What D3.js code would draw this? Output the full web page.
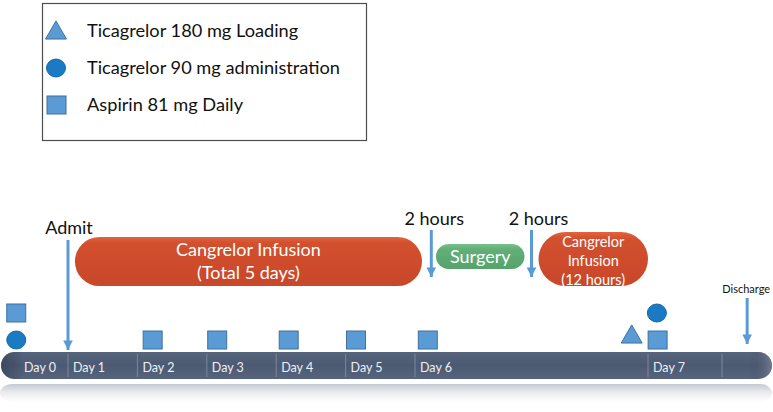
<!DOCTYPE html>
<html>
<head>
<meta charset="utf-8">
<script src="https://cdn.jsdelivr.net/npm/d3@7"></script>
<style>
  body { margin: 0; background: #fff; }
  svg { display: block; font-family: Lato, "Open Sans", sans-serif; }
</style>
</head>
<body>
<div id="chart"></div>
<script>
// timeline data (days)
const days = [0, 1, 2, 3, 4, 5, 6, 7];
const dayLabels = ["Day 0", "Day 1", "Day 2", "Day 3", "Day 4", "Day 5", "Day 6", "Day 7"];
const dividers = [1, 2, 3, 4, 5, 6, 7, 8];

// doses: day + stacking level
const aspirinDays = [0.25, 2.22, 3.15, 4.18, 5.15, 6.055, 7.13];
const aspirinLevels = [1, 0, 0, 0, 0, 0, 0];
const tica90Days = [0.25, 7.12];
const tica90Levels = [0, 1];
const tica180Days = [6.93];
const tica180Levels = [0];

// infusion / procedure phases
const phaseNames = [["Cangrelor Infusion", "(Total 5 days)"], ["Surgery"], ["Cangrelor", "Infusion", "(12 hours)"]];
const phaseStart = [1.1, 6.09, 6.53];
const phaseEnd = [6.03, 6.47, 7.0];

// events (arrows)
const eventNames = ["Admit", "2 hours", "2 hours", "Discharge"];
const eventDays = [1.0, 6.07, 6.5, 8.34];

const legendNames = ["Ticagrelor 180 mg Loading", "Ticagrelor 90 mg administration", "Aspirin 81 mg Daily"];

const width = 773, height = 412;
const svg = d3.select("#chart").append("svg")
  .attr("width", width).attr("height", height);

// day 6 is stretched to make room for the surgery day
const x = d3.scaleLinear()
  .domain([0, 1, 6, 7, 8])
  .range([-1, 68, 415, 648, 722]);

const defs = svg.append("defs");
function vgrad(id, stops) {
  const g = defs.append("linearGradient").attr("id", id)
    .attr("x1", 0).attr("y1", 0).attr("x2", 0).attr("y2", 1);
  stops.forEach(s => g.append("stop").attr("offset", s[0]).attr("stop-color", s[1]));
}
vgrad("barGrad", [[0, "#56647c"], [0.5, "#4b5972"], [1, "#56647d"]]);
vgrad("reflGrad", [[0, "#c4c9d2"], [0.45, "#e8eaee"], [1, "#ffffff"]]);
vgrad("redGrad", [[0, "#e3643c"], [0.12, "#d2502d"], [1, "#c9472a"]]);
vgrad("greenGrad", [[0, "#78c18a"], [0.2, "#62b077"], [1, "#55a36b"]]);
const hg = defs.append("linearGradient").attr("id", "edgeGrad")
  .attr("x1", 0).attr("y1", 0).attr("x2", 1).attr("y2", 0);
[[0, "#2f3a4c", 0.55], [0.03, "#2f3a4c", 0], [0.97, "#2f3a4c", 0], [1, "#8892a4", 0.6]]
  .forEach(s => hg.append("stop").attr("offset", s[0]).attr("stop-color", s[1]).attr("stop-opacity", s[2]));
const arrowDef = defs.append("marker").attr("id", "arrow")
  .attr("viewBox", "0 0 10 10").attr("refX", 10).attr("refY", 5)
  .attr("markerWidth", 3.2).attr("markerHeight", 3.4).attr("orient", "auto")
  .attr("markerUnits", "strokeWidth");
arrowDef.append("path").attr("d", "M0,0L10,5L0,10Z").attr("fill", "#5b9bd5");

// ---- legend
const lg = svg.append("g");
lg.append("rect").attr("x", 42.5).attr("y", 3.5).attr("width", 324).attr("height", 137)
  .attr("fill", "#fff").attr("stroke", "#4d4d4d").attr("stroke-width", 1.2);
const legY = d3.scalePoint().domain(legendNames).range([31, 105]);
const tri = d3.symbol().type(d3.symbolTriangle);
const blue = "#5b9bd5", blueStroke = "#41719c";
lg.append("path").attr("d", tri.size(190)())
  .attr("transform", `translate(56,${legY(legendNames[0]) + 2})`)
  .attr("fill", blue).attr("stroke", blueStroke);
lg.append("ellipse").attr("cx", 56).attr("cy", legY(legendNames[1]))
  .attr("rx", 9.5).attr("ry", 9).attr("fill", "#1b7ac4").attr("stroke", "#1267aa");
lg.append("rect").attr("x", 47).attr("y", legY(legendNames[2]) - 9).attr("width", 19).attr("height", 18)
  .attr("fill", blue).attr("stroke", blueStroke);
lg.selectAll("text.leg").data(legendNames).join("text").attr("class", "leg")
  .attr("x", 87).attr("y", d => legY(d) + 6)
  .attr("font-size", 18.2).attr("fill", "#111").text(d => d);

// ---- timeline bar
const barTop = 352, barH = 27;
svg.append("rect").attr("x", 0).attr("y", barTop + barH + 5).attr("width", 772).attr("height", 18)
  .attr("rx", 12).attr("fill", "url(#reflGrad)");
svg.append("rect").attr("x", 1).attr("y", barTop).attr("width", 771).attr("height", barH)
  .attr("rx", 13.5).attr("fill", "url(#barGrad)");
svg.append("rect").attr("x", 1).attr("y", barTop).attr("width", 771).attr("height", barH)
  .attr("rx", 13.5).attr("fill", "url(#edgeGrad)");
svg.selectAll("line.div").data(dividers).join("line").attr("class", "div")
  .attr("x1", d => x(d)).attr("x2", d => x(d))
  .attr("y1", barTop + 2).attr("y2", barTop + barH - 2)
  .attr("stroke", "#7d889a").attr("stroke-width", 1);
svg.selectAll("text.day").data(days).join("text").attr("class", "day")
  .attr("x", (d, i) => i === 0 ? 24 : x(d) + 5)
  .attr("y", barTop + 20)
  .attr("font-size", 12.5).attr("fill", "#eef1f5")
  .text((d, i) => dayLabels[i]);

// ---- phases (pills)
const phaseFill = ["url(#redGrad)", "url(#greenGrad)", "url(#redGrad)"];
const phaseTop = [237, 244, 232];
const phaseBot = [286, 269, 286];
const phaseFont = [18, 18, 14.5];
const phaseLine = [23, 0, 19];
phaseNames.forEach((lines, i) => {
  const x0 = x(phaseStart[i]), x1 = x(phaseEnd[i]);
  const h = phaseBot[i] - phaseTop[i];
  const g = svg.append("g");
  g.append("rect").attr("x", x0).attr("y", phaseTop[i]).attr("width", x1 - x0).attr("height", h)
    .attr("rx", Math.min(h / 2, (x1 - x0) / 2)).attr("ry", h / 2)
    .attr("fill", phaseFill[i]);
  const cy = (phaseTop[i] + phaseBot[i]) / 2;
  const n = lines.length;
  g.selectAll("text").data(lines).join("text")
    .attr("x", (x0 + x1) / 2)
    .attr("y", (d, j) => cy + (j - (n - 1) / 2) * phaseLine[i] + phaseFont[i] * 0.35 + (i === 2 ? 2 : 0))
    .attr("text-anchor", "middle").attr("font-size", phaseFont[i]).attr("fill", "#fff")
    .text(d => d);
});

// ---- events (arrows)
const evTop = [240, 230, 230, 298];
const evBot = [350, 277, 277, 344];
const evFont = [18, 18, 18, 11];
const evLabelY = [234, 225, 225, 293];
eventNames.forEach((name, i) => {
  const ex = x(eventDays[i]);
  svg.append("line").attr("x1", ex).attr("x2", ex).attr("y1", evTop[i]).attr("y2", evBot[i])
    .attr("stroke", blue).attr("stroke-width", 3).attr("marker-end", "url(#arrow)");
  svg.append("text").attr("x", ex + (i === 1 ? 3 : i === 2 ? 7 : i === 3 ? -1 : 1)).attr("y", evLabelY[i])
    .attr("text-anchor", "middle").attr("font-size", evFont[i]).attr("fill", "#111")
    .text(name);
});

// ---- doses
const levelY = d3.scaleLinear().domain([0, 1]).range([340, 313]);
svg.selectAll("rect.asp").data(aspirinDays).join("rect").attr("class", "asp")
  .attr("x", d => x(d) - 9.5).attr("y", (d, i) => levelY(aspirinLevels[i]) - 9)
  .attr("width", 19).attr("height", 18)
  .attr("fill", blue).attr("stroke", blueStroke);
svg.selectAll("ellipse.t90").data(tica90Days).join("ellipse").attr("class", "t90")
  .attr("cx", d => x(d)).attr("cy", (d, i) => levelY(tica90Levels[i]))
  .attr("rx", 9.5).attr("ry", 9).attr("fill", "#1b7ac4").attr("stroke", "#1267aa");
svg.selectAll("path.t180").data(tica180Days).join("path").attr("class", "t180")
  .attr("d", tri.size(190)())
  .attr("transform", (d, i) => `translate(${x(d)},${levelY(tica180Levels[i]) - 3})`)
  .attr("fill", blue).attr("stroke", blueStroke);
</script>
</body>
</html>
